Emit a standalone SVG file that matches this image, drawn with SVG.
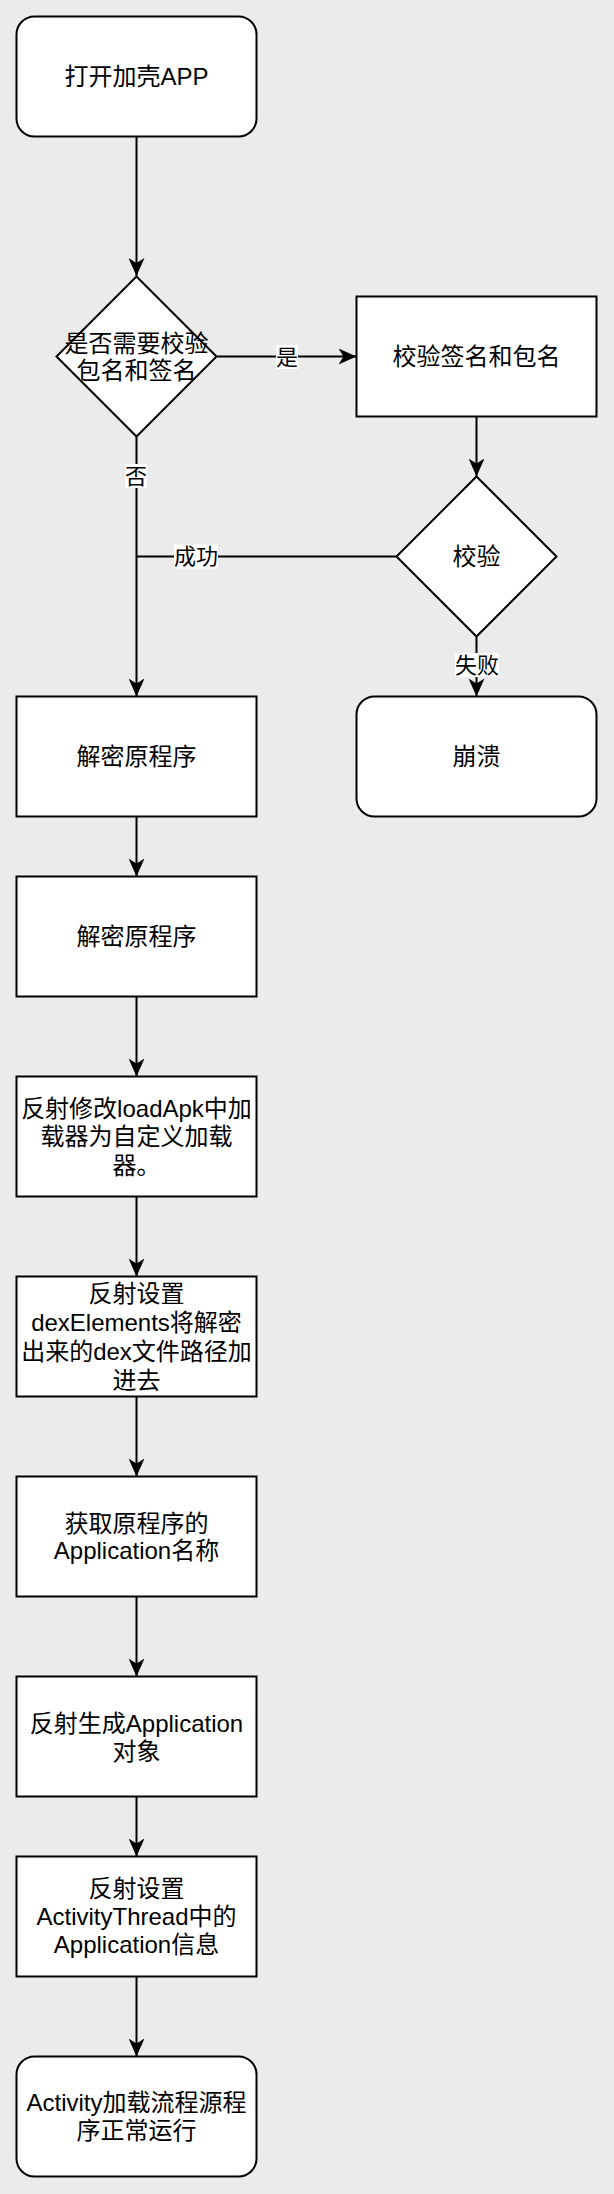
<svg xmlns="http://www.w3.org/2000/svg" width="614" height="2194" viewBox="0 0 614 2194">
<style>
.node{fill:#ffffff;stroke:#000000;stroke-width:2}
.t{font-family:"Liberation Sans","Noto Sans CJK SC",sans-serif;font-size:24px;fill:#000000;text-anchor:middle;dominant-baseline:central}
.lt{font-family:"Liberation Sans","Noto Sans CJK SC",sans-serif;font-size:22px;fill:#000000;text-anchor:middle;dominant-baseline:central}
.e{fill:none;stroke:#000000;stroke-width:2}
.lb{fill:#ffffff;stroke:none}
</style>
<defs>
<marker id="arr" markerUnits="userSpaceOnUse" viewBox="0 0 18 16" refX="18" refY="8" markerWidth="18" markerHeight="16" orient="auto">
<path d="M0,0 L18,8 L0,16 L5,8 Z" fill="#000000"/>
</marker>
</defs>
<rect x="0" y="0" width="614" height="2194" fill="#ebebeb"/>
<g id="connectors">
<path class="e" d="M136.5,136.5 L136.5,276" marker-end="url(#arr)"/>
<path class="e" d="M216.5,356.5 L356.5,356.5" marker-end="url(#arr)"/>
<path class="e" d="M476.5,416.5 L476.5,476.5" marker-end="url(#arr)"/>
<path class="e" d="M136.5,436.5 L136.5,696.5" marker-end="url(#arr)"/>
<path class="e" d="M396.5,556.5 L136.5,556.5"/>
<path class="e" d="M476.5,636.5 L476.5,696.5" marker-end="url(#arr)"/>
<path class="e" d="M136.5,816.5 L136.5,876.5" marker-end="url(#arr)"/>
<path class="e" d="M136.5,996.5 L136.5,1076.5" marker-end="url(#arr)"/>
<path class="e" d="M136.5,1196.5 L136.5,1276.5" marker-end="url(#arr)"/>
<path class="e" d="M136.5,1396.5 L136.5,1476.5" marker-end="url(#arr)"/>
<path class="e" d="M136.5,1596.5 L136.5,1676.5" marker-end="url(#arr)"/>
<path class="e" d="M136.5,1796.5 L136.5,1856.5" marker-end="url(#arr)"/>
<path class="e" d="M136.5,1976.5 L136.5,2056.5" marker-end="url(#arr)"/>
<rect class="lb" x="276" y="345" width="22" height="24"/>
<text class="lt" x="287" y="357">是</text>
<rect class="lb" x="125" y="464" width="22" height="24"/>
<text class="lt" x="136" y="476">否</text>
<rect class="lb" x="174" y="544.5" width="44" height="24"/>
<text class="lt" x="196" y="556.5">成功</text>
<rect class="lb" x="455" y="653" width="44" height="24"/>
<text class="lt" x="477" y="665">失败</text>
</g>
<g id="start">
<rect class="node" x="16.5" y="16.5" width="240" height="120" rx="18" ry="18"/>
<text class="t" x="136.5" y="76.5">打开加壳APP</text>
</g>
<g id="decision1">
<path class="node" d="M136.5,276.5 L216.5,356.5 L136.5,436.5 L56.5,356.5 Z"/>
<text class="t" x="136.5" y="343">是否需要校验</text>
<text class="t" x="136.5" y="370">包名和签名</text>
</g>
<g id="verify">
<rect class="node" x="356.5" y="296.5" width="240" height="120"/>
<text class="t" x="476.5" y="356.5">校验签名和包名</text>
</g>
<g id="decision2">
<path class="node" d="M476.5,476.5 L556.5,556.5 L476.5,636.5 L396.5,556.5 Z"/>
<text class="t" x="476.5" y="556.5">校验</text>
</g>
<g id="crash">
<rect class="node" x="356.5" y="696.5" width="240" height="120" rx="18" ry="18"/>
<text class="t" x="476.5" y="756.5">崩溃</text>
</g>
<g id="decrypt1">
<rect class="node" x="16.5" y="696.5" width="240" height="120"/>
<text class="t" x="136.5" y="756.5">解密原程序</text>
</g>
<g id="decrypt2">
<rect class="node" x="16.5" y="876.5" width="240" height="120"/>
<text class="t" x="136.5" y="936.5">解密原程序</text>
</g>
<g id="loader">
<rect class="node" x="16.5" y="1076.5" width="240" height="120"/>
<text class="t" x="136.5" y="1108">反射修改loadApk中加</text>
<text class="t" x="136.5" y="1136.5">载器为自定义加载</text>
<text class="t" x="136.5" y="1165">器。</text>
</g>
<g id="dexelements">
<rect class="node" x="16.5" y="1276.5" width="240" height="120"/>
<text class="t" x="136.5" y="1293.5">反射设置</text>
<text class="t" x="136.5" y="1322.5">dexElements将解密</text>
<text class="t" x="136.5" y="1351.5">出来的dex文件路径加</text>
<text class="t" x="136.5" y="1380.5">进去</text>
</g>
<g id="appname">
<rect class="node" x="16.5" y="1476.5" width="240" height="120"/>
<text class="t" x="136.5" y="1523">获取原程序的</text>
<text class="t" x="136.5" y="1550.5">Application名称</text>
</g>
<g id="genapp">
<rect class="node" x="16.5" y="1676.5" width="240" height="120"/>
<text class="t" x="136.5" y="1723">反射生成Application</text>
<text class="t" x="136.5" y="1751.5">对象</text>
</g>
<g id="setinfo">
<rect class="node" x="16.5" y="1856.5" width="240" height="120"/>
<text class="t" x="136.5" y="1888.5">反射设置</text>
<text class="t" x="136.5" y="1916.5">ActivityThread中的</text>
<text class="t" x="136.5" y="1944.5">Application信息</text>
</g>
<g id="end">
<rect class="node" x="16.5" y="2056.5" width="240" height="120" rx="18" ry="18"/>
<text class="t" x="136.5" y="2102.5">Activity加载流程源程</text>
<text class="t" x="136.5" y="2130.5">序正常运行</text>
</g>
</svg>
